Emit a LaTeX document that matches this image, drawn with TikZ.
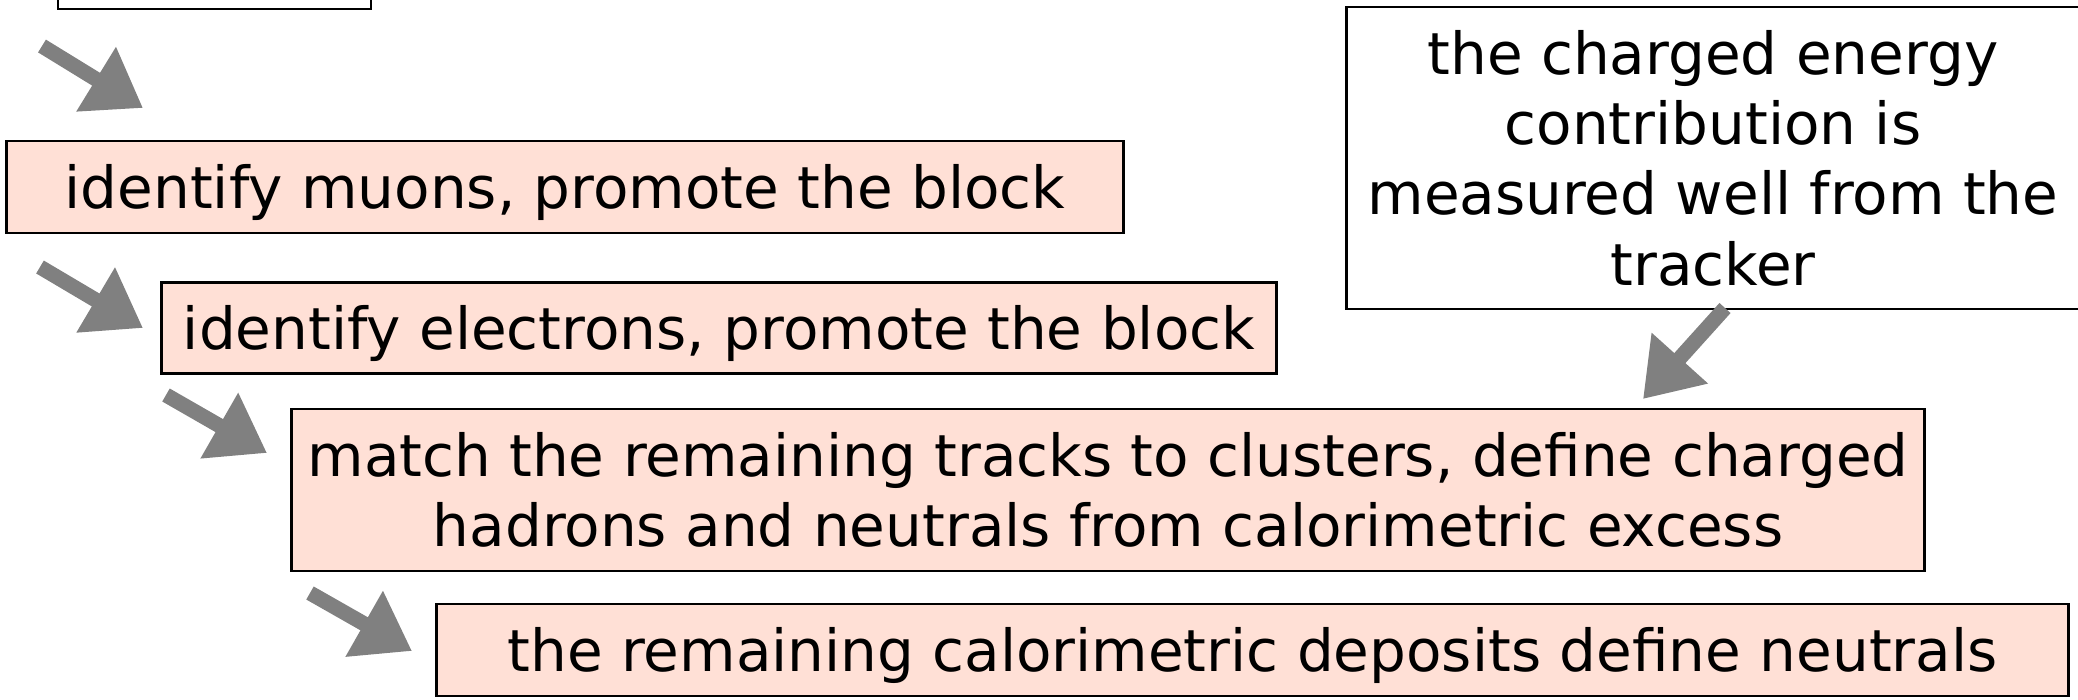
\documentclass[tikz,border=0pt]{standalone}
\usepackage{fontspec}
\setmainfont{DejaVu Sans}
\usetikzlibrary{arrows.meta}
\definecolor{stepfill}{RGB}{255,224,214}
\definecolor{arrowgray}{RGB}{128,128,128}
\tikzset{
  stepbox/.style={draw=black, line width=0.75pt, fill=stepfill, inner sep=0pt,
    align=center, font=\fontsize{16.5}{20}\selectfont},
  oneline/.style={text depth=0.03em},
  notebox/.style={draw=black, line width=0.75pt, fill=white, inner sep=0pt,
    align=center, font=\fontsize{16.5}{20}\selectfont},
  flowarrow/.style={draw=arrowgray, line width=0.15cm,
    -{Triangle[length=0.55cm, width=0.72cm]}}
}
\begin{document}
\begin{tikzpicture}[x=0.01cm, y=-0.01cm]
  \useasboundingbox (0,0) rectangle (2078,699);
  \clip (0,0) rectangle (2078,699);

  % previous step, only its lower edge is in view
  \node[notebox, minimum width=3.13cm, minimum height=0.92cm] (prev) at (214.5,-37) {};

  % processing steps
  \node[stepbox, oneline, minimum width=11.16cm, minimum height=0.92cm] (muons) at (565,187)
    {identify muons, promote the block};
  \node[stepbox, oneline, minimum width=11.14cm, minimum height=0.91cm] (electrons) at (719,328)
    {identify electrons, promote the block};
  \node[stepbox, minimum width=16.32cm, minimum height=1.62cm] (match) at (1108,490)
    {match the remaining tracks to clusters, define charged\\hadrons and neutrals from calorimetric excess};
  \node[stepbox, oneline, minimum width=16.31cm, minimum height=0.92cm] (neutrals) at (1252.5,650)
    {the remaining calorimetric deposits define neutrals};

  % side remark
  \node[notebox, minimum width=7.32cm, minimum height=3.02cm] (remark) at (1713,158)
    {the charged energy\\contribution is\\measured well from the\\tracker};

  % arrow end points
  \coordinate (t1) at (42,46);    \coordinate (h1) at (143,108);
  \coordinate (t2) at (40,267);   \coordinate (h2) at (143,328);
  \coordinate (t3) at (166,395);  \coordinate (h3) at (267,453);
  \coordinate (t4) at (310,593);  \coordinate (h4) at (412,651);
  \coordinate (t5) at (1725,308); \coordinate (h5) at (1643,399);

  \draw[flowarrow] (t1) -- (h1);
  \draw[flowarrow] (t2) -- (h2);
  \draw[flowarrow] (t3) -- (h3);
  \draw[flowarrow] (t4) -- (h4);
  \draw[flowarrow] (t5) -- (h5);
\end{tikzpicture}
\end{document}
